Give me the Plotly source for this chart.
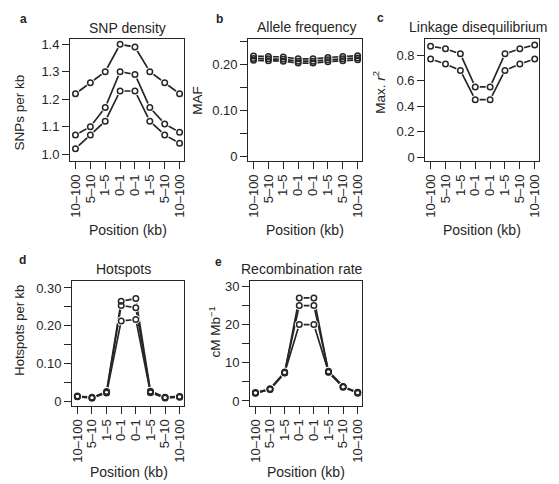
import plotly.graph_objects as go

# ---- data ----
positions = ["10–100", "5–10", "1–5", "0–1", "0–1", "1–5", "5–10", "10–100"]

snp_high = [1.22, 1.26, 1.30, 1.40, 1.39, 1.30, 1.26, 1.22]
snp_mid = [1.07, 1.10, 1.17, 1.30, 1.29, 1.17, 1.11, 1.08]
snp_low = [1.02, 1.07, 1.12, 1.23, 1.23, 1.12, 1.07, 1.04]

maf_1 = [0.218, 0.217, 0.216, 0.212, 0.212, 0.215, 0.217, 0.219]
maf_2 = [0.213, 0.212, 0.211, 0.207, 0.207, 0.210, 0.212, 0.214]
maf_3 = [0.209, 0.208, 0.207, 0.203, 0.203, 0.206, 0.208, 0.210]

ld_high = [0.87, 0.85, 0.81, 0.55, 0.55, 0.81, 0.85, 0.88]
ld_low = [0.77, 0.73, 0.68, 0.45, 0.45, 0.68, 0.73, 0.77]

hot_1 = [0.015, 0.010, 0.027, 0.265, 0.272, 0.028, 0.012, 0.014]
hot_2 = [0.014, 0.012, 0.025, 0.254, 0.248, 0.026, 0.011, 0.013]
hot_3 = [0.013, 0.010, 0.023, 0.213, 0.217, 0.024, 0.010, 0.012]

rec_1 = [2.1, 3.0, 7.3, 27.0, 27.0, 7.5, 3.6, 2.2]
rec_2 = [2.2, 3.2, 7.6, 25.0, 25.0, 7.8, 3.8, 2.3]
rec_3 = [2.0, 3.1, 7.4, 20.0, 20.0, 7.6, 3.7, 2.0]

xidx = list(range(len(positions)))

INK = "#262626"
FONT = "Liberation Sans, Arial, Helvetica, sans-serif"

fig = go.Figure()

panels = [
    ("x", "y", [snp_high, snp_mid, snp_low]),
    ("x2", "y2", [maf_1, maf_2, maf_3]),
    ("x3", "y3", [ld_high, ld_low]),
    ("x4", "y4", [hot_1, hot_2, hot_3]),
    ("x5", "y5", [rec_1, rec_2, rec_3]),
]

for xa, ya, series in panels:
    for s in series:
        fig.add_trace(go.Scatter(x=xidx, y=s, xaxis=xa, yaxis=ya, mode="lines",
                                 line=dict(color=INK, width=1.7),
                                 hoverinfo="skip", showlegend=False, cliponaxis=False))
    for s in series:
        fig.add_trace(go.Scatter(x=xidx, y=s, xaxis=xa, yaxis=ya, mode="markers",
                                 marker=dict(symbol="circle", size=9, color="white",
                                             line=dict(width=0)),
                                 hoverinfo="skip", showlegend=False, cliponaxis=False))
    for s in series:
        fig.add_trace(go.Scatter(x=xidx, y=s, xaxis=xa, yaxis=ya, mode="markers",
                                 marker=dict(symbol="circle-open", size=5.5, color=INK,
                                             line=dict(width=1.5, color=INK)),
                                 showlegend=False, cliponaxis=False))

W, H = 559, 484


def xd(l, r):
    return [l / W, r / W]


def yd(t, b):
    return [1 - b / H, 1 - t / H]


TICKFONT = dict(family=FONT, size=13, color=INK)
common_x = dict(range=[-0.35, 7.3], tickmode="array", tickvals=xidx, ticktext=positions,
                tickangle=-90, ticks="outside", ticklen=7, tickwidth=1.3, tickcolor=INK,
                showline=True, linecolor=INK, linewidth=1.4, mirror=True,
                showgrid=False, zeroline=False, tickfont=TICKFONT)
common_y = dict(ticks="outside", ticklen=7, tickwidth=1.3, tickcolor=INK,
                showline=True, linecolor=INK, linewidth=1.4, mirror=True,
                showgrid=False, zeroline=False, tickmode="array", tickfont=TICKFONT)


def minor(vals):
    return dict(tickmode="array", tickvals=vals, ticks="outside", ticklen=7,
                tickwidth=1.3, tickcolor=INK, showgrid=False)


layout = dict(
    width=W, height=H, margin=dict(l=0, r=0, t=0, b=0),
    paper_bgcolor="white", plot_bgcolor="white", showlegend=False,
    xaxis=dict(common_x, domain=xd(68, 183), anchor="y"),
    xaxis2=dict(common_x, domain=xd(248, 363), anchor="y2"),
    xaxis3=dict(common_x, domain=xd(427, 542), anchor="y3"),
    xaxis4=dict(common_x, domain=xd(70, 183), anchor="y4"),
    xaxis5=dict(common_x, domain=xd(250, 363), anchor="y5"),
    yaxis=dict(common_y, domain=yd(37, 161), anchor="x", range=[0.975, 1.421],
               tickvals=[1.0, 1.1, 1.2, 1.3, 1.4], ticktext=["1.0", "1.1", "1.2", "1.3", "1.4"]),
    yaxis2=dict(common_y, domain=yd(37, 161), anchor="x2", range=[-0.009, 0.256],
                tickvals=[0, 0.10, 0.20], ticktext=["0", "0.10", "0.20"],
                minor=minor([0.05, 0.15, 0.25])),
    yaxis3=dict(common_y, domain=yd(37, 161), anchor="x3", range=[-0.031, 0.93],
                tickvals=[0, 0.2, 0.4, 0.6, 0.8], ticktext=["0", "0.2", "0.4", "0.6", "0.8"]),
    yaxis4=dict(common_y, domain=yd(283, 409), anchor="x4", range=[-0.011, 0.317],
                tickvals=[0, 0.10, 0.20, 0.30], ticktext=["0", "0.10", "0.20", "0.30"],
                minor=minor([0.05, 0.15, 0.25])),
    yaxis5=dict(common_y, domain=yd(283, 409), anchor="x5", range=[-1.3, 31.3],
                tickvals=[0, 10, 20, 30], ticktext=["0", "10", "20", "30"],
                minor=minor([5, 15, 25])),
)
fig.update_layout(**layout)


def ann(text, x, y, size=14, angle=0, bold=False):
    if bold:
        text = "<b>" + text + "</b>"
    fig.add_annotation(text=text, x=x / W, y=1 - y / H, xref="paper", yref="paper",
                       showarrow=False, textangle=angle, xanchor="center", yanchor="middle",
                       font=dict(family=FONT, size=size, color=INK))


# panel letters
ann("a", 21, 17, size=12, bold=True)
ann("b", 219, 17, size=12, bold=True)
ann("c", 382, 16, size=12, bold=True)
ann("d", 20, 261, size=12, bold=True)
ann("e", 218, 263, size=12, bold=True)

# titles
ann("SNP density", 126, 26)
ann("Allele frequency", 307, 25)
ann("Linkage disequilibrium", 481, 25)
ann("Hotspots", 122, 270)
ann("Recombination rate", 302, 270)

# y axis titles
ann("SNPs per kb", 17, 112, size=13.5, angle=-90)
ann("MAF", 197, 99, size=13.5, angle=-90)
ann("Max. <i>r</i><sup>2</sup>", 380, 91, size=13.5, angle=-90)
ann("Hotspots per kb", 17, 332, size=13, angle=-90)
ann("cM Mb<sup>−1</sup>", 214, 334, size=13.5, angle=-90)

# x axis titles
ann("Position (kb)", 126, 231)
ann("Position (kb)", 305, 231)
ann("Position (kb)", 484, 231)
ann("Position (kb)", 127, 476)
ann("Position (kb)", 306, 476)

fig.write_html("out.html")
